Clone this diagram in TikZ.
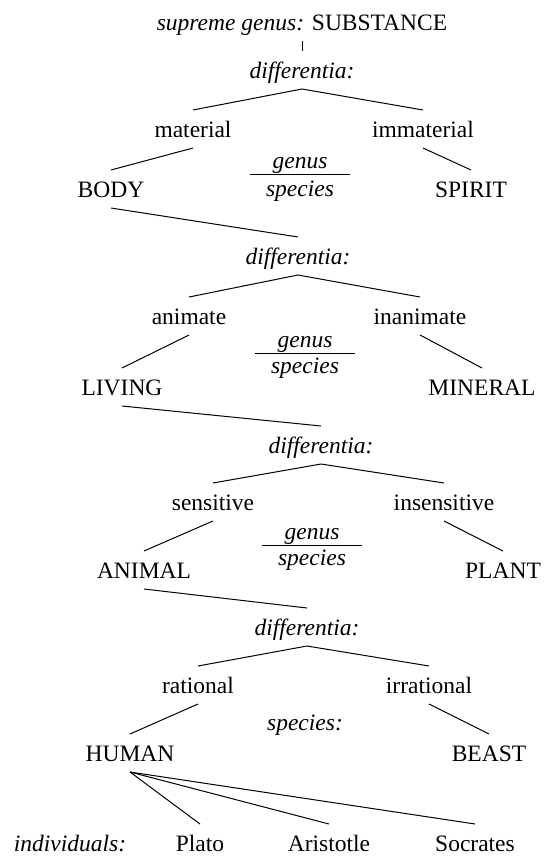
\documentclass[tikz,border=0pt]{standalone}
\usepackage{fontspec}
\setmainfont[Scale=1.175]{Liberation Serif}

\begin{document}
\begin{tikzpicture}[x=0.5pt,y=-0.5pt,line width=0.5pt,
    word/.style={anchor=base,inner sep=0pt,outer sep=5.5pt,
      text height=8pt,text depth=0pt},
    diff/.style={word,font=\itshape},
    bar/.style={fill,inner sep=0pt,outer sep=0pt,minimum width=50pt,
      minimum height=0.5pt}]
  \useasboundingbox (0,0) rectangle (544,857);

  % Supreme genus and first division
  \node[word] (substance) at (302,30) {\textit{supreme genus:} SUBSTANCE};
  \node[diff] (diff1) at (302,78) {differentia:};
  \node[word] (material) at (193,137) {material};
  \node[word] (immaterial) at (423,137) {immaterial};
  \node[word] (body) at (111,197) {BODY};
  \node[word] (spirit) at (471,197) {SPIRIT};
  \node[diff] (genus1) at (300,168) {genus};
  \node[bar] (bar1) at (300,174) {};
  \node[diff] (species1) at (300,196) {species};

  \draw (substance.south) -- (diff1.north);
  \draw (material.north) -- (diff1.south) -- (immaterial.north);
  \draw (material.south) -- (body.north);
  \draw (immaterial.south) -- (spirit.north);

  % Second division
  \node[diff] (diff2) at (298,264) {differentia:};
  \node[word] (animate) at (189,324) {animate};
  \node[word] (inanimate) at (420,324) {inanimate};
  \node[word] (living) at (122,395) {LIVING};
  \node[word] (mineral) at (482,395) {MINERAL};
  \node[diff] (genus2) at (305,347) {genus};
  \node[bar] (bar2) at (305,353) {};
  \node[diff] (species2) at (305,373) {species};

  \draw (body.south) -- (diff2.north);
  \draw (animate.north) -- (diff2.south) -- (inanimate.north);
  \draw (animate.south) -- (living.north);
  \draw (inanimate.south) -- (mineral.north);

  % Third division
  \node[diff] (diff3) at (321,453) {differentia:};
  \node[word] (sensitive) at (213,510) {sensitive};
  \node[word] (insensitive) at (444,510) {insensitive};
  \node[word] (animal) at (144,578) {ANIMAL};
  \node[word] (plant) at (503,578) {PLANT};
  \node[diff] (genus3) at (312,539) {genus};
  \node[bar] (bar3) at (312,545) {};
  \node[diff] (species3) at (312,565) {species};

  \draw (living.south) -- (diff3.north);
  \draw (sensitive.north) -- (diff3.south) -- (insensitive.north);
  \draw (sensitive.south) -- (animal.north);
  \draw (insensitive.south) -- (plant.north);

  % Last division: the lowest species
  \node[diff] (diff4) at (307,635) {differentia:};
  \node[word] (rational) at (198,693) {rational};
  \node[word] (irrational) at (429,693) {irrational};
  \node[word] (human) at (130,761) {HUMAN};
  \node[word] (beast) at (489,761) {BEAST};
  \node[diff] (species4) at (305,730) {species:};

  \draw (animal.south) -- (diff4.north);
  \draw (rational.north) -- (diff4.south) -- (irrational.north);
  \draw (rational.south) -- (human.north);
  \draw (irrational.south) -- (beast.north);

  % Individuals under HUMAN
  \node[diff] (individuals) at (70,851) {individuals:};
  \node[word] (plato) at (200,851) {Plato};
  \node[word] (aristotle) at (329,851) {Aristotle};
  \node[word] (socrates) at (475,851) {Socrates};

  \draw (human.south) -- (plato.north);
  \draw (human.south) -- (aristotle.north);
  \draw (human.south) -- (socrates.north);
\end{tikzpicture}
\end{document}
